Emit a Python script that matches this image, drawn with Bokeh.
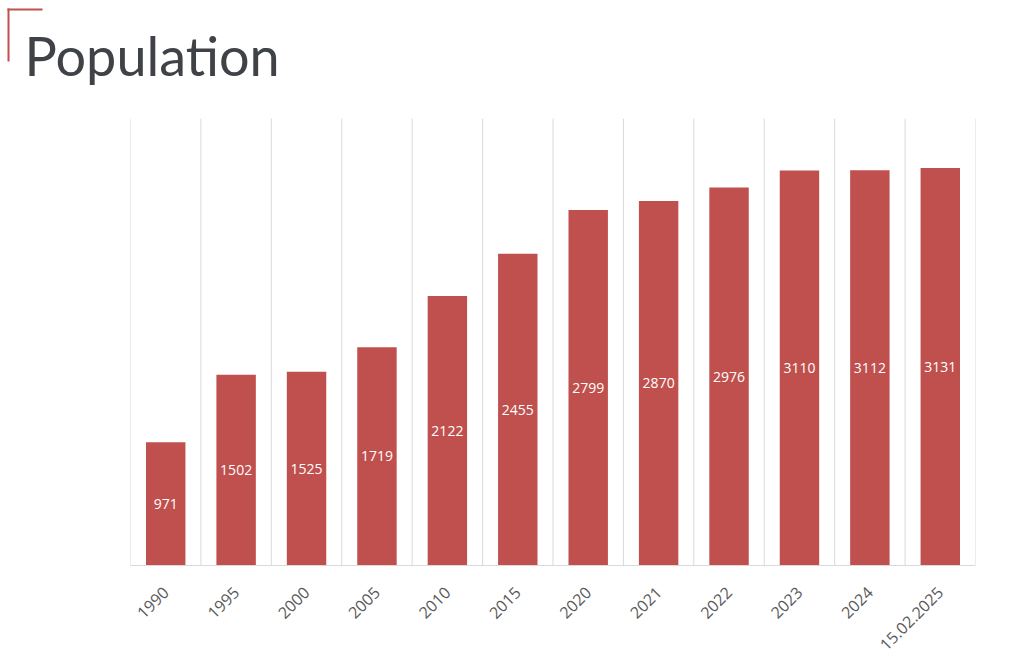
import math
from bokeh.plotting import figure
from bokeh.models import FactorRange, Range1d, Span, Label, BoxAnnotation, ColumnDataSource
from bokeh.core.properties import value
from bokeh.embed import file_html
from bokeh.resources import INLINE

categories = ["1990", "1995", "2000", "2005", "2010", "2015", "2020",
              "2021", "2022", "2023", "2024", "15.02.2025"]
population = [971, 1502, 1525, 1719, 2122, 2455, 2799, 2870, 2976, 3110, 3112, 3131]
title_text = "Population"

BAR = "#c0504d"
GRID = "#d9d9d9"
W = 1000
HEAD_H = 118
CHART_H = 544
FRAME_BOTTOM = 565

# ---- header (title + corner bracket) ----
head = figure(width=W, height=HEAD_H, output_backend="svg", toolbar_location=None,
              x_range=Range1d(0, W), y_range=Range1d(0, HEAD_H),
              min_border=0, min_border_left=0, min_border_right=0,
              min_border_top=0, min_border_bottom=0)
head.axis.visible = False
head.grid.visible = False
head.outline_line_color = None
head.border_fill_color = "white"
head.add_layout(Label(x=24, y=HEAD_H - 55, x_units="screen", y_units="screen",
                      text=title_text, text_font="Lato", text_font_size="54px",
                      text_color="#3f4247", text_baseline="alphabetic"))
head.add_layout(BoxAnnotation(left=7, right=9, top=HEAD_H - 8, bottom=HEAD_H - 61,
                              left_units="screen", right_units="screen",
                              top_units="screen", bottom_units="screen",
                              fill_color=BAR, fill_alpha=1, line_color=None))
head.add_layout(BoxAnnotation(left=7, right=42, top=HEAD_H - 8, bottom=HEAD_H - 10,
                              left_units="screen", right_units="screen",
                              top_units="screen", bottom_units="screen",
                              fill_color=BAR, fill_alpha=1, line_color=None))

# ---- chart ----
src = ColumnDataSource(dict(
    x=categories,
    top=population,
    mid=[v / 2 for v in population],
    label=[str(v) for v in population],
))

p = figure(width=W, height=CHART_H, output_backend="svg", toolbar_location=None,
           x_range=FactorRange(factors=categories, range_padding=0),
           y_range=Range1d(0, 3520),
           min_border_left=130, min_border_right=W - 975, min_border_top=0,
           min_border_bottom=CHART_H - (FRAME_BOTTOM - HEAD_H))
p.outline_line_color = None
p.background_fill_color = "white"
p.border_fill_color = "white"

p.vbar(x="x", top="top", width=0.56, source=src, fill_color=BAR, line_color=None)
p.text(x="x", y="mid", text="label", source=src, text_color="white",
       text_font=value("Open Sans"), text_font_size="14px",
       text_align="center", text_baseline="middle")

for i in range(len(categories) + 1):
    p.add_layout(Span(location=i, dimension="height", line_color=GRID, line_width=1))

p.yaxis.visible = False
p.xgrid.grid_line_color = None
p.ygrid.grid_line_color = None

ax = p.xaxis[0]
ax.axis_line_color = GRID
ax.major_tick_line_color = None
ax.minor_tick_line_color = None
ax.major_label_orientation = math.pi / 4
ax.major_label_text_font = "Open Sans"
ax.major_label_text_font_size = "16px"
ax.major_label_text_color = "#595959"
ax.major_label_standoff = 18

open("out.html", "w").write(file_html([head, p], INLINE))
